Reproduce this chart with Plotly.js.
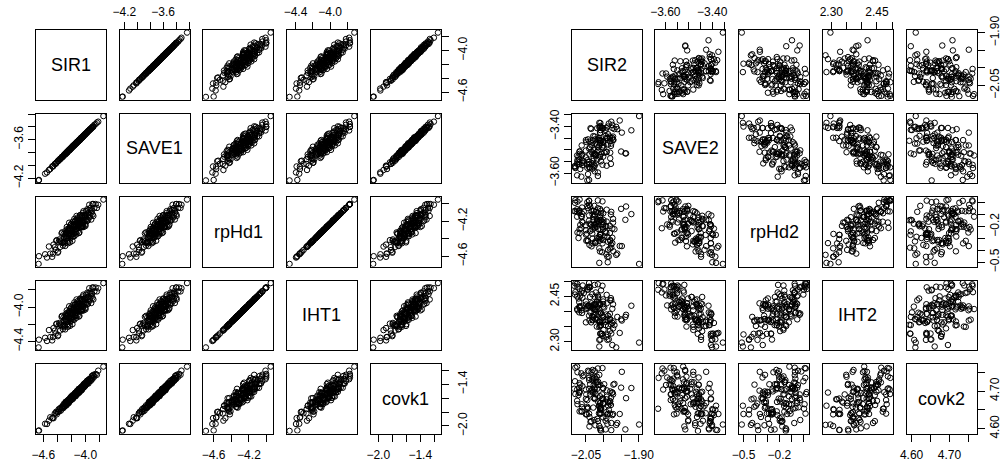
<!DOCTYPE html>
<html><head><meta charset="utf-8">
<script src="https://cdn.plot.ly/plotly-3.0.1.min.js"></script>
<style>html,body{margin:0;padding:0;background:#fff}#chart{width:1002px;height:467px}</style>
</head><body><div id="chart"></div>
<script>
// ---------- data: left scatterplot matrix ----------
const names1 = ["SIR1","SAVE1","rpHd1","IHT1","covk1"];
const SIR1 = [-4.667,-4.662,
-4.574,-4.547,-4.519,-4.500,-4.473,-4.454,-4.436,-4.422,-4.408,-4.394,
-4.380,-4.371,-4.357,-4.348,-4.338,-4.329,-4.320,-4.310,-4.301,
-4.297,-4.292,-4.287,-4.283,-4.278,-4.273,-4.269,-4.264,-4.260,-4.255,
-4.250,-4.246,-4.241,-4.236,-4.232,-4.227,-4.223,-4.218,-4.213,-4.209,
-4.204,-4.199,-4.195,-4.190,-4.186,-4.181,-4.176,-4.172,-4.167,-4.162,
-4.158,-4.153,-4.148,-4.144,-4.139,-4.135,-4.130,-4.125,-4.121,-4.116,
-4.111,-4.107,-4.102,-4.098,-4.093,-4.088,-4.084,-4.079,-4.074,-4.070,
-4.065,-4.060,-4.056,-4.051,-4.047,-4.042,-4.037,-4.033,-4.028,-4.023,-4.019,
-4.010,-4.000,-3.991,-3.977,-3.963,-3.954,-3.940,-3.926,-3.912,-3.898,-3.885,-3.871,-3.852,-3.834,-3.815,
-3.741,
-4.461,-4.415,-4.387,-4.359,-4.332,-4.313,-4.295,-4.276,-4.267,-4.258,
-4.248,-4.239,-4.230,-4.221,-4.211,-4.202,-4.193,-4.184,-4.174,-4.165,
-4.156,-4.146,-4.137,-4.128,-4.119,-4.109,-4.100,-4.091,-4.082,-4.072,
-4.063,-4.054,-4.045,-4.035,-4.026,-4.017,-4.008,-3.998,-3.989,-3.980,
-3.971,-3.961,-3.952,-3.943,-3.934,-3.924,-3.915,-3.906,-3.896,-3.887,
-4.184,-4.137,-4.091,-4.230,-4.045,-4.267,-3.998,-4.156,-4.109,-4.063];
const SAVE1 = [-4.233,-4.226,
-4.128,-4.108,-4.070,-4.055,-4.015,-4.003,-3.977,-3.974,-3.952,-3.934,
-3.926,-3.906,-3.899,-3.886,-3.882,-3.863,-3.865,-3.845,-3.831,-3.835,
-3.823,-3.828,-3.815,-3.815,-3.800,-3.803,-3.792,-3.799,-3.787,-3.779,
-3.781,-3.766,-3.769,-3.761,-3.762,-3.748,-3.755,-3.740,-3.731,-3.735,
-3.723,-3.728,-3.715,-3.715,-3.700,-3.703,-3.692,-3.699,-3.687,-3.679,
-3.681,-3.666,-3.669,-3.661,-3.662,-3.648,-3.655,-3.640,-3.631,-3.635,
-3.623,-3.628,-3.615,-3.615,-3.600,-3.603,-3.592,-3.599,-3.587,-3.579,
-3.581,-3.566,-3.569,-3.561,-3.562,-3.548,-3.555,-3.540,-3.531,-3.535,
-3.518,-3.518,-3.500,-3.490,-3.465,-3.463,-3.442,-3.439,-3.417,-3.399,
-3.391,-3.366,-3.354,-3.331,-3.317,
-3.230,
-4.016,-3.960,-3.926,-3.904,-3.864,-3.852,-3.828,-3.815,-3.796,-3.798,
-3.778,-3.764,-3.763,-3.746,-3.746,-3.728,-3.723,-3.703,-3.701,-3.685,
-3.687,-3.670,-3.657,-3.654,-3.634,-3.632,-3.619,-3.615,-3.596,-3.598,
-3.578,-3.564,-3.563,-3.546,-3.546,-3.528,-3.523,-3.503,-3.501,-3.485,
-3.487,-3.470,-3.457,-3.454,-3.434,-3.432,-3.419,-3.415,-3.396,-3.398,
-3.708,-3.654,-3.613,-3.756,-3.566,-3.798,-3.513,-3.673,-3.631,-3.575];
const rpHd1 = [-4.687,-4.599,
-4.577,-4.614,-4.489,-4.570,-4.606,-4.467,-4.496,-4.529,-4.416,-4.559,
-4.438,-4.408,-4.493,-4.434,-4.339,-4.449,-4.478,-4.346,-4.383,-4.438,
-4.361,-4.482,-4.310,-4.386,-4.331,-4.394,-4.266,-4.423,-4.346,-4.394,
-4.302,-4.430,-4.346,-4.277,-4.353,-4.299,-4.441,-4.306,-4.244,-4.364,
-4.310,-4.379,-4.251,-4.335,-4.207,-4.306,-4.266,-4.342,-4.244,-4.372,
-4.266,-4.203,-4.295,-4.328,-4.229,-4.262,-4.141,-4.291,-4.229,-4.320,
-4.192,-4.255,-4.170,-4.277,-4.222,-4.328,-4.192,-4.130,-4.266,-4.196,
-4.229,-4.145,-4.266,-4.159,-4.200,-4.108,-4.222,-4.159,-4.266,-4.130,
-4.167,-4.189,-4.086,-4.200,-4.115,-4.071,-4.156,-4.071,-4.104,-4.005,
-4.141,-4.049,-4.005,-4.049,-4.013,
-3.954,
-4.570,-4.423,-4.548,-4.423,-4.328,-4.438,-4.452,-4.335,-4.372,-4.291,
-4.452,-4.313,-4.357,-4.277,-4.394,-4.233,-4.350,-4.291,-4.372,-4.240,
-4.174,-4.328,-4.262,-4.350,-4.189,-4.269,-4.196,-4.335,-4.196,-4.137,
-4.255,-4.203,-4.137,-4.255,-4.086,-4.189,-4.130,-4.240,-4.130,-4.181,
-4.064,-4.189,-4.108,-4.013,-4.137,-4.049,-4.181,-4.079,-4.123,-4.005,
-4.423,-4.189,-4.240,-4.218,-4.269,-4.328,-4.255,-4.255,-4.159,-4.262];
const IHT1 = [-4.469,-4.379,
-4.357,-4.394,-4.267,-4.349,-4.387,-4.244,-4.274,-4.308,-4.192,-4.338,
-4.214,-4.184,-4.271,-4.211,-4.113,-4.226,-4.256,-4.121,-4.158,-4.214,
-4.136,-4.259,-4.083,-4.162,-4.106,-4.169,-4.038,-4.199,-4.121,-4.169,
-4.076,-4.207,-4.121,-4.050,-4.128,-4.072,-4.218,-4.080,-4.016,-4.139,
-4.083,-4.154,-4.023,-4.109,-3.978,-4.080,-4.038,-4.117,-4.016,-4.147,
-4.038,-3.975,-4.068,-4.102,-4.001,-4.035,-3.911,-4.065,-4.001,-4.094,
-3.963,-4.027,-3.941,-4.050,-3.993,-4.102,-3.963,-3.900,-4.038,-3.967,
-4.001,-3.915,-4.038,-3.930,-3.971,-3.877,-3.993,-3.930,-4.038,-3.900,
-3.937,-3.960,-3.855,-3.971,-3.885,-3.840,-3.926,-3.840,-3.874,-3.772,
-3.911,-3.817,-3.772,-3.817,-3.780,
-3.720,
-4.349,-4.199,-4.327,-4.199,-4.102,-4.214,-4.229,-4.109,-4.147,-4.065,
-4.229,-4.087,-4.132,-4.050,-4.169,-4.005,-4.124,-4.065,-4.147,-4.012,
-3.945,-4.102,-4.035,-4.124,-3.960,-4.042,-3.967,-4.109,-3.967,-3.907,
-4.027,-3.975,-3.907,-4.027,-3.855,-3.960,-3.900,-4.012,-3.900,-3.952,
-3.832,-3.960,-3.877,-3.780,-3.907,-3.817,-3.952,-3.847,-3.892,-3.772,
-4.199,-3.960,-4.012,-3.990,-4.042,-4.102,-4.027,-4.027,-3.930,-4.035];
const covk1 = [-2.072,-2.065,
-1.969,-1.972,-1.924,-1.875,-1.888,-1.889,-1.821,-1.817,-1.833,-1.799,
-1.760,-1.791,-1.757,-1.778,-1.728,-1.739,-1.705,-1.725,-1.676,-1.722,
-1.687,-1.712,-1.688,-1.653,-1.688,-1.704,-1.649,-1.655,-1.680,-1.655,
-1.626,-1.661,-1.636,-1.662,-1.617,-1.633,-1.603,-1.628,-1.584,-1.629,
-1.594,-1.620,-1.595,-1.561,-1.596,-1.611,-1.557,-1.562,-1.587,-1.563,
-1.533,-1.568,-1.544,-1.569,-1.525,-1.540,-1.510,-1.536,-1.491,-1.536,
-1.502,-1.527,-1.503,-1.468,-1.503,-1.519,-1.464,-1.469,-1.495,-1.470,
-1.440,-1.476,-1.451,-1.477,-1.432,-1.447,-1.418,-1.443,-1.398,-1.444,
-1.405,-1.425,-1.396,-1.352,-1.378,-1.389,-1.325,-1.321,-1.337,-1.303,
-1.265,-1.291,-1.252,-1.264,-1.205,
-1.146,
-1.881,-1.795,-1.797,-1.744,-1.737,-1.743,-1.690,-1.651,-1.692,-1.648,
-1.663,-1.674,-1.615,-1.621,-1.636,-1.597,-1.573,-1.604,-1.579,-1.580,
-1.576,-1.526,-1.547,-1.513,-1.524,-1.539,-1.495,-1.466,-1.507,-1.462,
-1.478,-1.489,-1.430,-1.435,-1.451,-1.412,-1.388,-1.418,-1.394,-1.395,
-1.391,-1.341,-1.362,-1.328,-1.339,-1.354,-1.310,-1.281,-1.321,-1.277,
-1.599,-1.572,-1.476,-1.630,-1.470,-1.662,-1.378,-1.576,-1.514,-1.478];

// ---------- data: right scatterplot matrix ----------
const names2 = ["SIR2","SAVE2","rpHd2","IHT2","covk2"];
const SIR2 = [-2.010,-2.003,-2.061,-2.026,-2.018,-2.044,-2.009,-2.007,-2.009,-2.015,
-2.040,-1.981,-2.029,-2.044,-1.992,-2.022,-2.075,-2.016,-2.009,-2.001,
-2.028,-2.041,-1.982,-2.049,-2.016,-1.994,-2.066,-2.000,-2.031,-1.964,
-2.083,-1.994,-1.950,-2.075,-1.954,-2.059,-2.007,-2.068,-1.975,-2.046,
-1.972,-2.075,-1.985,-2.007,-2.034,-2.037,-2.041,-2.001,-2.061,-1.948,
-2.015,-2.028,-2.010,-2.009,-2.025,-2.071,-1.975,-2.028,-2.038,-2.026,
-1.979,-2.068,-2.001,-2.031,-2.001,-1.991,-2.012,-2.025,-1.991,-2.068,
-1.989,-2.019,-2.046,-2.024,-1.936,-2.018,-2.019,-1.899,-2.032,-2.035,
-2.038,-1.973,-2.050,-2.041,-2.010,-2.031,-1.961,-2.081,-2.012,-1.979,
-2.069,-1.992,-2.041,-2.004,-1.981,-2.034,-2.006,-1.982,-2.074,-2.032,
-2.013,-1.987,-2.056,-1.938,-2.012,-2.022,-2.046,-1.969,-2.080,-1.987,
-1.992,-2.025,-2.047,-2.009,-2.041,-1.973,-2.080,-2.010,-1.921,-2.025,
-2.009,-2.074,-2.001,-2.000,-2.050,-2.063,-1.978,-2.031,-2.013,-2.010,
-2.016,-2.040,-2.004,-2.023,-1.998,-2.062,-2.022,-2.009,-2.025,-1.978,
-2.050,-1.982,-2.068,-2.003,-1.988,-2.060,-1.989,-2.069,-1.975,-2.063];
const SAVE2 = [-3.524,-3.406,-3.523,-3.520,-3.542,-3.455,-3.458,-3.549,-3.400,-3.488,
-3.519,-3.512,-3.441,-3.604,-3.405,-3.558,-3.524,-3.503,-3.397,-3.529,
-3.536,-3.494,-3.449,-3.466,-3.597,-3.414,-3.582,-3.481,-3.458,-3.401,
-3.571,-3.440,-3.507,-3.609,-3.374,-3.548,-3.461,-3.506,-3.406,-3.577,
-3.458,-3.560,-3.387,-3.517,-3.508,-3.407,-3.629,-3.466,-3.556,-3.426,
-3.455,-3.565,-3.531,-3.385,-3.515,-3.528,-3.393,-3.575,-3.488,-3.502,
-3.483,-3.553,-3.468,-3.516,-3.408,-3.568,-3.403,-3.519,-3.508,-3.508,
-3.448,-3.479,-3.631,-3.455,-3.515,-3.407,-3.510,-3.355,-3.581,-3.410,
-3.577,-3.456,-3.503,-3.561,-3.428,-3.548,-3.411,-3.570,-3.481,-3.560,
-3.541,-3.448,-3.552,-3.406,-3.536,-3.481,-3.462,-3.463,-3.544,-3.559,
-3.449,-3.477,-3.550,-3.515,-3.384,-3.521,-3.544,-3.411,-3.575,-3.433,
-3.510,-3.443,-3.563,-3.426,-3.574,-3.443,-3.578,-3.471,-3.416,-3.568,
-3.415,-3.551,-3.463,-3.492,-3.458,-3.615,-3.473,-3.469,-3.458,-3.458,
-3.612,-3.465,-3.488,-3.473,-3.512,-3.481,-3.525,-3.404,-3.592,-3.379,
-3.532,-3.443,-3.517,-3.564,-3.400,-3.566,-3.450,-3.561,-3.449,-3.520];
const rpHd2 = [-0.052,-0.341,-0.159,-0.185,-0.140,-0.322,-0.222,-0.088,-0.262,-0.153,
-0.176,-0.322,-0.143,-0.045,-0.198,-0.335,-0.117,-0.175,-0.270,-0.221,
-0.069,-0.106,-0.254,-0.319,-0.046,-0.240,-0.186,-0.166,-0.341,-0.438,
-0.070,-0.197,-0.051,-0.073,-0.363,-0.166,-0.147,-0.255,-0.339,-0.027,
-0.408,-0.054,-0.453,-0.066,-0.366,-0.184,0.016,-0.089,-0.040,-0.364,
-0.220,-0.067,-0.292,-0.270,-0.203,-0.296,-0.217,-0.119,-0.238,-0.026,
-0.350,0.027,-0.313,-0.225,-0.182,-0.158,-0.383,-0.211,-0.058,-0.067,
-0.454,-0.158,0.005,-0.338,-0.031,-0.296,-0.202,-0.514,-0.201,-0.181,
-0.031,-0.167,-0.267,-0.017,-0.270,-0.099,-0.427,0.000,-0.320,-0.099,
-0.085,-0.433,0.018,-0.415,-0.313,-0.070,-0.305,-0.385,0.010,-0.259,
-0.160,-0.328,-0.072,-0.143,-0.505,-0.077,-0.314,-0.222,0.022,-0.396,
-0.254,-0.109,-0.260,-0.143,-0.150,-0.135,-0.072,-0.409,-0.095,-0.096,
-0.147,-0.250,-0.206,-0.145,-0.189,-0.214,-0.076,-0.301,-0.287,-0.121,
0.020,-0.354,-0.158,-0.325,-0.284,-0.119,-0.178,-0.107,-0.182,-0.377,
-0.231,-0.194,-0.222,0.012,-0.500,-0.094,-0.286,-0.064,-0.294,-0.113];
const IHT2 = [2.425,2.319,2.469,2.387,2.415,2.419,2.354,2.470,2.307,2.448,
2.416,2.375,2.381,2.473,2.390,2.424,2.408,2.443,2.327,2.433,
2.423,2.386,2.392,2.423,2.453,2.355,2.452,2.339,2.412,2.281,
2.485,2.366,2.374,2.492,2.329,2.486,2.356,2.417,2.289,2.480,
2.367,2.450,2.308,2.395,2.427,2.396,2.494,2.440,2.395,2.370,
2.391,2.414,2.422,2.326,2.409,2.443,2.362,2.407,2.448,2.393,
2.357,2.474,2.424,2.373,2.370,2.455,2.306,2.488,2.427,2.416,
2.306,2.432,2.472,2.405,2.389,2.372,2.350,2.297,2.457,2.364,
2.480,2.344,2.408,2.482,2.365,2.383,2.382,2.456,2.349,2.444,
2.431,2.316,2.480,2.326,2.437,2.417,2.326,2.372,2.482,2.384,
2.427,2.386,2.461,2.382,2.284,2.463,2.417,2.355,2.493,2.352,
2.371,2.448,2.412,2.352,2.420,2.424,2.464,2.370,2.419,2.424,
2.397,2.404,2.416,2.383,2.364,2.463,2.437,2.371,2.367,2.364,
2.490,2.371,2.387,2.375,2.413,2.404,2.409,2.392,2.420,2.327,
2.433,2.335,2.412,2.485,2.324,2.446,2.373,2.397,2.409,2.417];
const covk2 = [4.668,4.678,4.645,4.705,4.706,4.655,4.716,4.653,4.652,4.724,
4.606,4.699,4.656,4.754,4.628,4.691,4.765,4.620,4.650,4.708,
4.682,4.706,4.640,4.691,4.716,4.598,4.717,4.669,4.736,4.610,
4.706,4.621,4.709,4.704,4.639,4.739,4.594,4.699,4.696,4.676,
4.717,4.674,4.650,4.655,4.701,4.618,4.735,4.707,4.657,4.751,
4.671,4.733,4.653,4.597,4.753,4.689,4.636,4.716,4.718,4.623,
4.682,4.697,4.668,4.756,4.630,4.702,4.607,4.707,4.685,4.721,
4.638,4.723,4.653,4.681,4.681,4.626,4.738,4.611,4.731,4.620,
4.691,4.691,4.638,4.752,4.641,4.696,4.615,4.726,4.743,4.663,
4.709,4.678,4.640,4.680,4.673,4.751,4.640,4.667,4.665,4.704,
4.660,4.670,4.742,4.598,4.661,4.723,4.658,4.719,4.692,4.661,
4.644,4.698,4.638,4.668,4.729,4.639,4.762,4.658,4.708,4.679,
4.601,4.750,4.680,4.665,4.679,4.747,4.615,4.698,4.641,4.686,
4.760,4.631,4.691,4.609,4.718,4.665,4.731,4.640,4.736,4.596,
4.704,4.672,4.646,4.761,4.639,4.713,4.613,4.695,4.696,4.647];

// ---------- tick values and labels ----------
const M = "\u2212";
const SIR1_ticks  = [-4.6,-4.4,-4.2,-4.0,-3.8];          const SIR1_labels  = [M+"4.6","","",M+"4.0",""];
const SAVE1_ticks = [-4.2,-4.0,-3.8,-3.6,-3.4,-3.2];     const SAVE1_labels = [M+"4.2","","",M+"3.6","",""];
const rpHd1_ticks = [-4.6,-4.4,-4.2,-4.0];               const rpHd1_labels = [M+"4.6","",M+"4.2",""];
const IHT1_ticks  = [-4.4,-4.2,-4.0,-3.8];               const IHT1_labels  = [M+"4.4","",M+"4.0",""];
const covk1_ticks = [-2.0,-1.8,-1.6,-1.4,-1.2];          const covk1_labels = [M+"2.0","","",M+"1.4",""];
const SIR2_ticks  = [-2.05,-2.00,-1.95,-1.90];           const SIR2_labels  = [M+"2.05","","",M+"1.90"];
const SAVE2_ticks = [-3.60,-3.55,-3.50,-3.45,-3.40,-3.35]; const SAVE2_labels = [M+"3.60","","","",M+"3.40",""];
const rpHd2_ticks = [-0.5,-0.4,-0.3,-0.2,-0.1,0.0];      const rpHd2_labels = [M+"0.5","","",M+"0.2","",""];
const IHT2_ticks  = [2.30,2.35,2.40,2.45,2.50];          const IHT2_labels  = ["2.30","","","2.45",""];
const covk2_ticks = [4.60,4.65,4.70,4.75];               const covk2_labels = ["4.60","","4.70",""];

const mats = [
  {names:names1, vars:[SIR1,SAVE1,rpHd1,IHT1,covk1],
   ticks:[SIR1_ticks,SAVE1_ticks,rpHd1_ticks,IHT1_ticks,covk1_ticks],
   labels:[SIR1_labels,SAVE1_labels,rpHd1_labels,IHT1_labels,covk1_labels], x0:36, dx:83.65, rightOff:4},
  {names:names2, vars:[SIR2,SAVE2,rpHd2,IHT2,covk2],
   ticks:[SIR2_ticks,SAVE2_ticks,rpHd2_ticks,IHT2_ticks,covk2_ticks],
   labels:[SIR2_labels,SAVE2_labels,rpHd2_labels,IHT2_labels,covk2_labels], x0:571.7, dx:83.75, rightOff:0}
];

const W=1002, H=467, PW=70, PH=69.5, Y0=30, DY=83.5;
const FONT = "Liberation Sans, Arial, Helvetica, sans-serif";
function rangeOf(a){const mn=Math.min(...a), mx=Math.max(...a), r=mx-mn; return [mn-0.04*r, mx+0.04*r];}
function base(){return {showgrid:false, zeroline:false, showline:true, mirror:true, linecolor:'#000', linewidth:1,
  ticks:'', showticklabels:false, fixedrange:true};}
function setTicks(ax, vals, labs, standoff){
  Object.assign(ax, {ticks:'outside', ticklen:7, tickwidth:1, tickcolor:'#000', tickmode:'array',
    tickvals:vals, ticktext:labs, showticklabels:true, ticklabelstandoff:standoff,
    tickfont:{family:FONT, size:12, color:'#000'}});
}

const traces=[], annotations=[];
const layout = {width:W, height:H, margin:{l:0,r:0,t:0,b:0}, showlegend:false, hovermode:false,
  paper_bgcolor:'#fff', plot_bgcolor:'#fff', font:{family:FONT, color:'#000'}};
let k=0;
mats.forEach(m=>{
  const ranges = m.vars.map(rangeOf);
  for(let i=0;i<5;i++) for(let j=0;j<5;j++){
    k++;
    const sfx = k===1 ? '' : String(k);
    const x0 = m.x0 + m.dx*j, y0 = Y0 + DY*i;
    const xax = Object.assign(base(), {domain:[x0/W,(x0+PW)/W], range:ranges[j], anchor:'y'+sfx});
    const yax = Object.assign(base(), {domain:[1-(y0+PH)/H, 1-y0/H], range:ranges[i], anchor:'x'+sfx});
    if(i===0 && j%2===1){ xax.side='top'; setTicks(xax, m.ticks[j], m.labels[j], 1); }
    if(i===4 && j%2===0){ xax.side='bottom'; setTicks(xax, m.ticks[j], m.labels[j], 3); }
    if(j===0 && i%2===1){ yax.side='left'; setTicks(yax, m.ticks[i], m.labels[i], 0); yax.tickangle=-90; }
    if(j===4 && i%2===0){ yax.side='right'; setTicks(yax, m.ticks[i], m.labels[i], m.rightOff); yax.tickangle=-90; }
    layout['xaxis'+sfx]=xax; layout['yaxis'+sfx]=yax;
    if(i===j){
      annotations.push({text:m.names[i], xref:'paper', yref:'paper', x:(x0+PW/2)/W, y:1-(y0+PH/2)/H,
        xanchor:'center', yanchor:'middle', showarrow:false, font:{family:FONT, size:18, color:'#000'}});
      traces.push({type:'scatter', mode:'markers', x:[null], y:[null], xaxis:'x'+sfx, yaxis:'y'+sfx});
    } else {
      traces.push({type:'scatter', mode:'markers', x:m.vars[j], y:m.vars[i], xaxis:'x'+sfx, yaxis:'y'+sfx,
        marker:{symbol:'circle-open', size:5.5, color:'#000', line:{width:1, color:'#000'}}});
    }
  }
});
layout.annotations = annotations;
Plotly.newPlot('chart', traces, layout, {displayModeBar:false, staticPlot:true});
</script>
</body></html>
